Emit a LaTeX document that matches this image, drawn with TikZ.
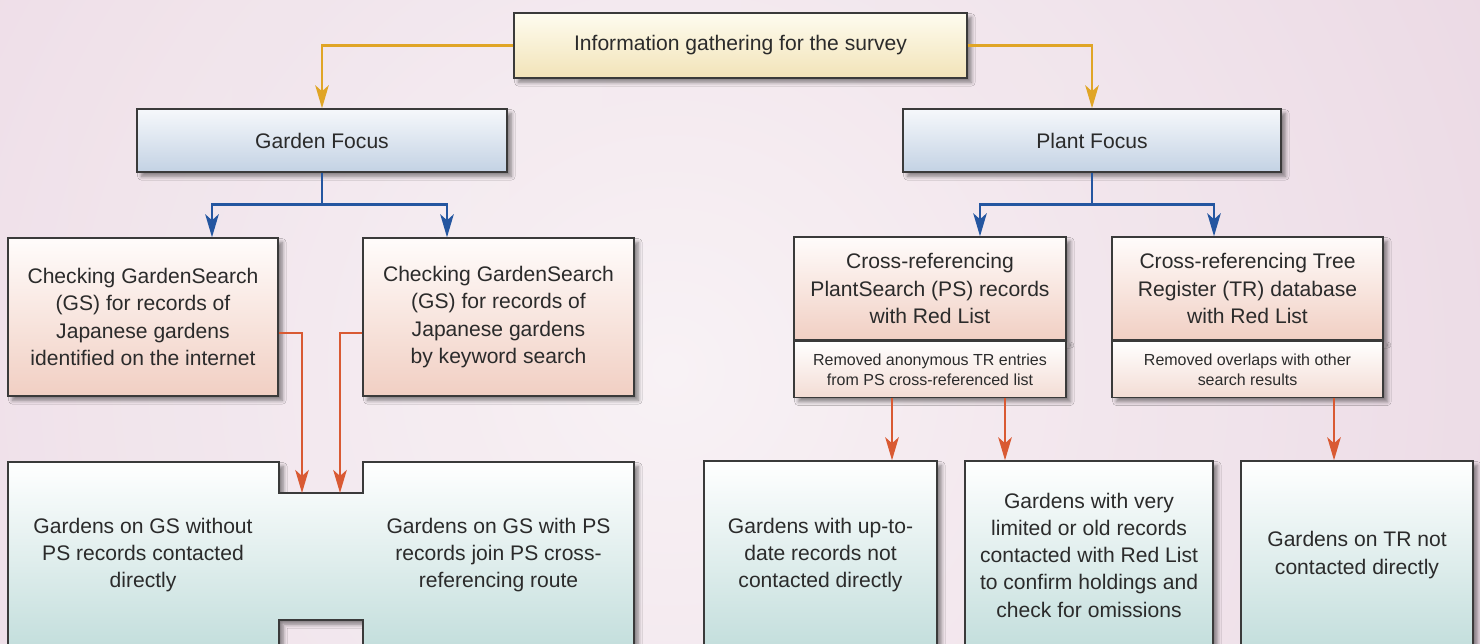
\documentclass[tikz,border=0pt]{standalone}
\usepackage{fontspec}
\setmainfont{Liberation Sans}
\usepackage{tikz}
\usepackage{xcolor}
\usetikzlibrary{positioning, arrows.meta, shadows.blur}

\definecolor{edge}{HTML}{3A3A3A}
\definecolor{ink}{HTML}{2B2B2B}
\definecolor{infotop}{HTML}{FEFCEF}
\definecolor{infobot}{HTML}{F2E3B8}
\definecolor{focustop}{HTML}{F6F8FB}
\definecolor{focusbot}{HTML}{C3D2E4}
\definecolor{searchtop}{HTML}{FFFCFB}
\definecolor{searchbot}{HTML}{F1CFC3}
\definecolor{notetop}{HTML}{FFFFFF}
\definecolor{notebot}{HTML}{F3DCD4}
\definecolor{resulttop}{HTML}{FFFFFF}
\definecolor{resultbot}{HTML}{C3DEDC}
\definecolor{goldline}{HTML}{E0A526}
\definecolor{blueline}{HTML}{2456A0}
\definecolor{redline}{HTML}{D95A33}
\definecolor{bgl}{HTML}{E9D6E2}
\definecolor{bgm}{HTML}{FAF6F8}
\definecolor{bgr}{HTML}{E3C6D7}

\tikzstyle{box} = [rectangle, draw=edge, line width=0.8pt, text=ink, align=center, inner sep=0pt, font=\fontsize{12}{15.5}\selectfont, blur shadow={shadow xshift=2.5pt, shadow yshift=-2.5pt, shadow blur steps=6, shadow opacity=45}]
\tikzstyle{info} = [box, minimum width=9.06cm, minimum height=1.30cm, top color=infotop, bottom color=infobot]
\tikzstyle{focus} = [box, minimum height=1.26cm, top color=focustop, bottom color=focusbot]
\tikzstyle{search} = [box, minimum height=3.16cm, top color=searchtop, bottom color=searchbot]
\tikzstyle{crossref} = [box, minimum width=5.44cm, minimum height=2.06cm, top color=searchtop, bottom color=searchbot]
\tikzstyle{note} = [box, minimum width=5.44cm, minimum height=1.12cm, top color=notetop, bottom color=notebot, font=\fontsize{9.1}{11.4}\selectfont]
\tikzstyle{result} = [box, minimum height=3.76cm, top color=resulttop, bottom color=resultbot]
\tikzstyle{plain} = [text=ink, align=center, font=\fontsize{12}{15.5}\selectfont]
\tikzstyle{goldarrow} = [line width=1.4pt, goldline, -{Stealth[length=4.6mm, width=2.7mm, inset=1.2mm]}]
\tikzstyle{bluearrow} = [line width=1.4pt, blueline, -{Stealth[length=4.6mm, width=2.7mm, inset=1.2mm]}]
\tikzstyle{redarrow} = [line width=1.4pt, redline, -{Stealth[length=4.6mm, width=2.7mm, inset=1.2mm]}]

\begin{document}
\begin{tikzpicture}
		\useasboundingbox (0,0) rectangle (29.6,-12.88);
		\clip (0,0) rectangle (29.6,-12.88);
		\shade [left color=bgl, middle color=bgr!60!bgl, right color=bgr] (0,0) rectangle (29.6,-12.88);
		% light centre of the background
		\shade [inner color=bgm, outer color=bgr!60!bgl, opacity=0.9] (13.4,-7.4) circle (30cm);

		\node (info) [info] at (14.81,-0.91) {Information gathering for the survey};
		\node (garden) [focus, minimum width=7.40cm] at (6.44,-2.81) {Garden Focus};
		\node (plant) [focus, minimum width=7.56cm] at (21.84,-2.81) {Plant Focus};

		\node (internet) [search, minimum width=5.40cm] at (2.86,-6.34) {Checking GardenSearch\\(GS) for records of\\Japanese gardens\\identified on the internet};
		\node (keyword) [search, minimum width=5.42cm] at (9.97,-6.34) {Checking GardenSearch\\(GS) for records of\\Japanese gardens\\by keyword search};
		\node (ps) [crossref] at (18.60,-5.77) {Cross-referencing\\PlantSearch (PS) records\\with Red List};
		\node (psnote) [note, below=0pt of ps] {Removed anonymous TR entries\\from PS cross-referenced list};
		\node (tr) [crossref, minimum width=5.42cm] at (24.95,-5.77) {Cross-referencing Tree\\Register (TR) database\\with Red List};
		\node (trnote) [note, minimum width=5.42cm, below=0pt of tr] {Removed overlaps with other\\search results};

		% notched box for the GS results
		\shade [top color=resulttop, bottom color=resultbot, draw=edge, line width=0.8pt, blur shadow={shadow xshift=2.5pt, shadow yshift=-2.5pt, shadow blur steps=6, shadow opacity=45}]
			(0.16,-9.24) -- (5.58,-9.24) -- (5.58,-9.86) -- (7.26,-9.86) -- (7.26,-9.24) -- (12.68,-9.24)
			-- (12.68,-12.98) -- (7.26,-12.98) -- (7.26,-12.40) -- (5.58,-12.40) -- (5.58,-12.98) -- (0.16,-12.98) -- cycle;
		\coordinate (notchA) at (6.04,-9.86);
		\coordinate (notchB) at (6.80,-9.86);
		\node (direct) [plain] at (2.86,-11.10) {Gardens on GS without\\PS records contacted\\directly};
		\node (join) [plain] at (9.97,-11.10) {Gardens on GS with PS\\records join PS cross-\\referencing route};

		\node (uptodate) [result, minimum width=4.66cm] at (16.41,-11.10) {Gardens with up-to-\\date records not\\contacted directly};
		\node (limited) [result, minimum width=4.96cm] at (21.78,-11.10) {Gardens with very\\limited or old records\\contacted with Red List\\to confirm holdings and\\check for omissions};
		\node (trnot) [result, minimum width=4.64cm] at (27.14,-11.10) {Gardens on TR not\\contacted directly};

		\draw [goldarrow] (info.west) -| (garden.north);
		\draw [goldarrow] (info.east) -| (plant.north);
		\draw [bluearrow] (garden.south) -- +(0,-0.64) -| ([xshift=1.38cm]internet.north);
		\draw [bluearrow] (garden.south) -- +(0,-0.64) -| ([xshift=-1.03cm]keyword.north);
		\draw [bluearrow] (plant.south) -- +(0,-0.64) -| ([xshift=1.00cm]ps.north);
		\draw [bluearrow] (plant.south) -- +(0,-0.64) -| ([xshift=-0.67cm]tr.north);
		\draw [redarrow] ([yshift=-0.32cm]internet.east) -| (notchA);
		\draw [redarrow] ([yshift=-0.32cm]keyword.west) -| (notchB);
		\draw [redarrow] ([xshift=-0.76cm]psnote.south) coordinate (p1) -- (p1 |- uptodate.north);
		\draw [redarrow] ([xshift=1.50cm]psnote.south) coordinate (p2) -- (p2 |- limited.north);
		\draw [redarrow] ([xshift=1.73cm]trnote.south) coordinate (p3) -- (p3 |- trnot.north);
	\end{tikzpicture}
\end{document}
